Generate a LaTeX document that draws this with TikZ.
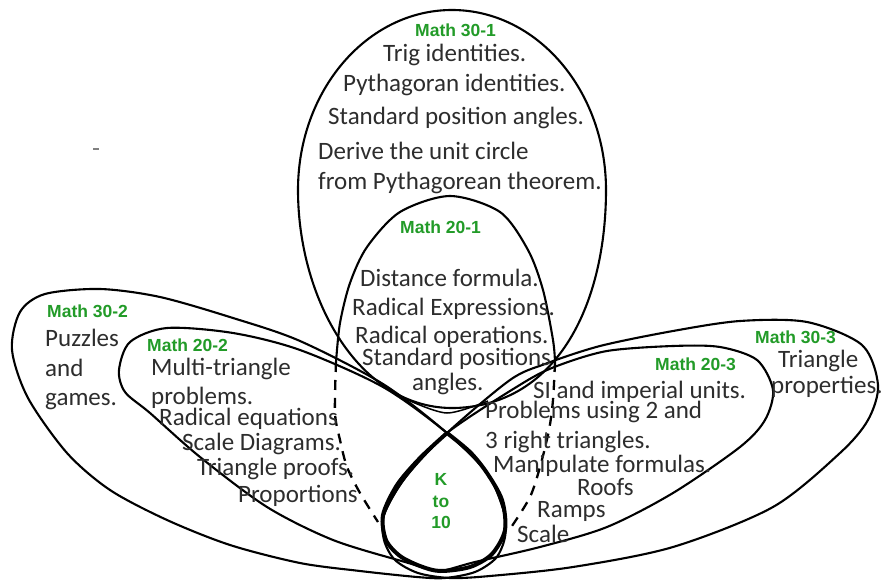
\documentclass[tikz,border=0pt]{standalone}
\usepackage{fontspec}
\newfontfamily\bodyfam{Carlito}
\newfontfamily\lblfam{Liberation Sans}
\definecolor{textgray}{RGB}{45,45,45}
\definecolor{mathgreen}{RGB}{34,155,40}
\begin{document}
\begin{tikzpicture}[x=1pt,y=-1pt,
  body/.style={inner sep=0pt, anchor=base west, text=textgray, font=\bodyfam\fontsize{25}{28}\selectfont},
  lbl/.style={inner sep=0pt, anchor=base west, text=mathgreen, font=\lblfam\bfseries\fontsize{17.5}{20}\selectfont},
  outline/.style={line width=2.1pt, line join=round},
  hiddenline/.style={line width=2.3pt, dash pattern=on 10pt off 8pt},
  tearline/.style={line width=4pt, line join=round, line cap=round}]
\useasboundingbox (0,0) rectangle (881,580);
\fill[white] (0,0) rectangle (881,580);

% Math 30-1 (outer vertical)
\draw[outline] (298,190) arc[start angle=180, end angle=0, x radius=154pt, y radius=180pt]
  .. controls (606,300) and (560,405) .. (455,408)
  .. controls (360,410) and (298,300) .. (298,190) -- cycle;
\draw[outline, line width=1.5pt] plot[smooth] coordinates {(408,400) (447,413) (488,401)};

% Math 20-1 (inner vertical)
\draw[outline] plot[smooth] coordinates {(336,362) (340,323) (350,283) (367,247) (400,212) (450,196) (500,212) (528,250) (543,290) (553,340) (555,362)};
\draw[hiddenline] plot[smooth] coordinates {(336,362) (335,413) (340,440) (347,467) (360,493) (378,522)};
\draw[hiddenline] plot[smooth] coordinates {(555,362) (553,400) (549,430) (540,467) (530,497) (512,526)};

% Math 30-2 and 20-2 (left)
\draw[outline] plot[smooth cycle] coordinates {(12,350) (20,312) (45,294) (100,289) (160,297) (233,318) (300,341) (383,384) (447,433) (487,473) (504,512) (505,537) (496,558) (475,572) (445,578) (417,577) (360,571) (300,563) (230,545) (167,520) (110,490) (67,453) (28,398)};
\draw[outline] plot[smooth cycle] coordinates {(119,370) (130,342) (167,328) (233,333) (300,350) (383,387) (447,433) (487,473) (504,512) (503,537) (492,554) (470,567) (440,571) (405,562) (333,540) (267,507) (200,457) (150,413) (125,392)};

% Math 30-3 and 20-3 (right)
\draw[outline] plot[smooth cycle] coordinates {(878,385) (862,345) (807,322) (740,321) (673,331) (600,346) (545,364) (510,380) (447,433) (405,478) (384,515) (384,540) (395,560) (418,573) (450,578) (490,576) (573,567) (673,547) (773,507) (840,453) (868,420)};
\draw[outline] plot[smooth cycle] coordinates {(773,390) (757,360) (720,347) (673,346) (607,351) (557,366) (523,383) (447,433) (405,478) (384,515) (386,540) (400,556) (420,566) (440,571) (475,562) (540,547) (607,527) (673,493) (740,447) (765,420)};

% K to 10 loop
\draw[tearline] plot[smooth] coordinates {(447,433) (420,458) (397,485) (383,515) (386,540) (400,556) (420,566) (440,571) (470,567) (492,554) (505,530) (502,500) (487,473) (470,452) (447,433)};

% stray mark
\draw[gray, line width=1.4pt] (93,149) -- (99,149);

% Math 30-1 texts
\node[lbl]  (m301) at (415,36.5) {Math 30-1};
\node[body] (a1) at (383,61.5) {Trig identities.};
\node[body] (a2) at (343,91.5) {Pythagoran identities.};
\node[body] (a3) at (328,125) {Standard position angles.};
\node[body] (a4) at (318,160) {Derive the unit circle};
\node[body] (a5) at (318,190) {from Pythagorean theorem.};

% Math 20-1 texts
\node[lbl]  (m201) at (400,234) {Math 20-1};
\node[body] (b1) at (360,287) {Distance formula.};
\node[body] (b2) at (352,315) {Radical Expressions.};
\node[body] (b3) at (355,343) {Radical operations.};
\node[body] (b4) at (362,365) {Standard positions};
\node[body] (b5) at (412,390) {angles.};

% Math 30-2 texts
\node[lbl]  (m302) at (47,317) {Math 30-2};
\node[body] (c1) at (45,346) {Puzzles};
\node[body] (c2) at (45,376) {and};
\node[body] (c3) at (45,405) {games.};

% Math 20-2 texts
\node[lbl]  (m202) at (147,351) {Math 20-2};
\node[body] (d1) at (151,375) {Multi-triangle};
\node[body] (d2) at (151,404) {problems.};
\node[body] (d3) at (159,425) {Radical equations};
\node[body] (d4) at (182,450) {Scale Diagrams.};
\node[body] (d5) at (197,475) {Triangle proofs.};
\node[body] (d6) at (238,502) {Proportions};

% Math 30-3 texts
\node[lbl]  (m303) at (755,343) {Math 30-3};
\node[body] (e1) at (778,367) {Triangle};
\node[body] (e2) at (771,393) {properties.};

% Math 20-3 texts
\node[lbl]  (m203) at (655,370) {Math 20-3};
\node[body] (f1) at (533,398) {SI and imperial units.};
\node[body] (f2) at (485,418) {Problems using 2 and};
\node[body] (f3) at (485,448) {3 right triangles.};
\node[body] (f4) at (493,472) {Manipulate formulas.};
\node[body] (f5) at (577,495) {Roofs};
\node[body] (f6) at (537,517) {Ramps};
\node[body] (f7) at (517,542) {Scale};

% K to 10
\node[lbl, anchor=base] (k1) at (441,485) {K};
\node[lbl, anchor=base] (k2) at (441,507) {to};
\node[lbl, anchor=base] (k3) at (441,528) {10};
\end{tikzpicture}
\end{document}
